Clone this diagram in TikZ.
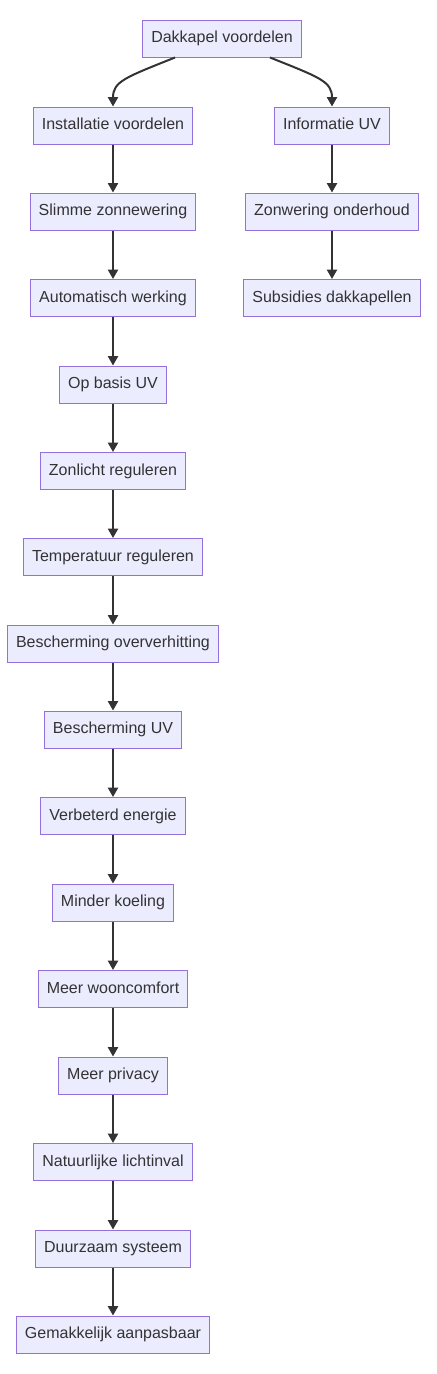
\documentclass[tikz,border=0pt]{standalone}
\usepackage{fontspec}
\setmainfont{Liberation Sans}
\usetikzlibrary{arrows.meta}
\definecolor{boxfill}{HTML}{ECECFF}
\definecolor{boxline}{HTML}{9370DB}
\definecolor{ink}{HTML}{333333}
\tikzset{
  box/.style={draw=boxline,fill=boxfill,line width=0.75pt,text=ink,
    font=\fontsize{12pt}{14pt}\selectfont,inner xsep=6.3pt,
    text height=9pt,text depth=2.5pt,minimum height=27.75pt},
  arr/.style={draw=ink,line width=1.5pt,-{Triangle[length=7pt,width=7.5pt]}}
}
\begin{document}
\begin{tikzpicture}[x=0.75pt,y=-0.75pt]
    \useasboundingbox (0,0) rectangle (436,1374);
    \node[box] (dak) at (222,38.5) {Dakkapel voordelen};
    % rechter tak
    \node[box] (info) at (332,125.5) {Informatie UV};
    \node[box] (onder) at (332,211.5) {Zonwering onderhoud};
    \node[box] (subs) at (332,298) {Subsidies dakkapellen};
    % linker tak
    \foreach \n/\t/\y in {n1/Installatie voordelen/125.5,
        n2/Slimme zonnewering/211.5,
        n3/Automatisch werking/298,
        n4/Op basis UV/384.5,
        n5/Zonlicht reguleren/471,
        n6/Temperatuur reguleren/557,
        n7/Bescherming oververhitting/643.5,
        n8/Bescherming UV/729.5,
        n9/Verbeterd energie/816,
        n10/Minder koeling/902.5,
        n11/Meer wooncomfort/989,
        n12/Meer privacy/1075.5,
        n13/Natuurlijke lichtinval/1162,
        n14/Duurzaam systeem/1248.5,
        n15/Gemakkelijk aanpasbaar/1334.5} {
      \node[box] (\n) at (113,\y) {\t};
    }
    \draw[arr] ([xshift=-35.25pt]dak.south) .. controls +(-50,20) and +(0,-25) .. (n1.north);
    \draw[arr] ([xshift=36pt]dak.south) .. controls +(50,20) and +(0,-25) .. (info.north);
    \draw[arr] (info) -- (onder);
    \draw[arr] (onder) -- (subs);
    \foreach \a/\b in {1/2,2/3,3/4,4/5,5/6,6/7,7/8,8/9,9/10,10/11,11/12,12/13,13/14,14/15} {
      \draw[arr] (n\a) -- (n\b);
    }
\end{tikzpicture}
\end{document}
